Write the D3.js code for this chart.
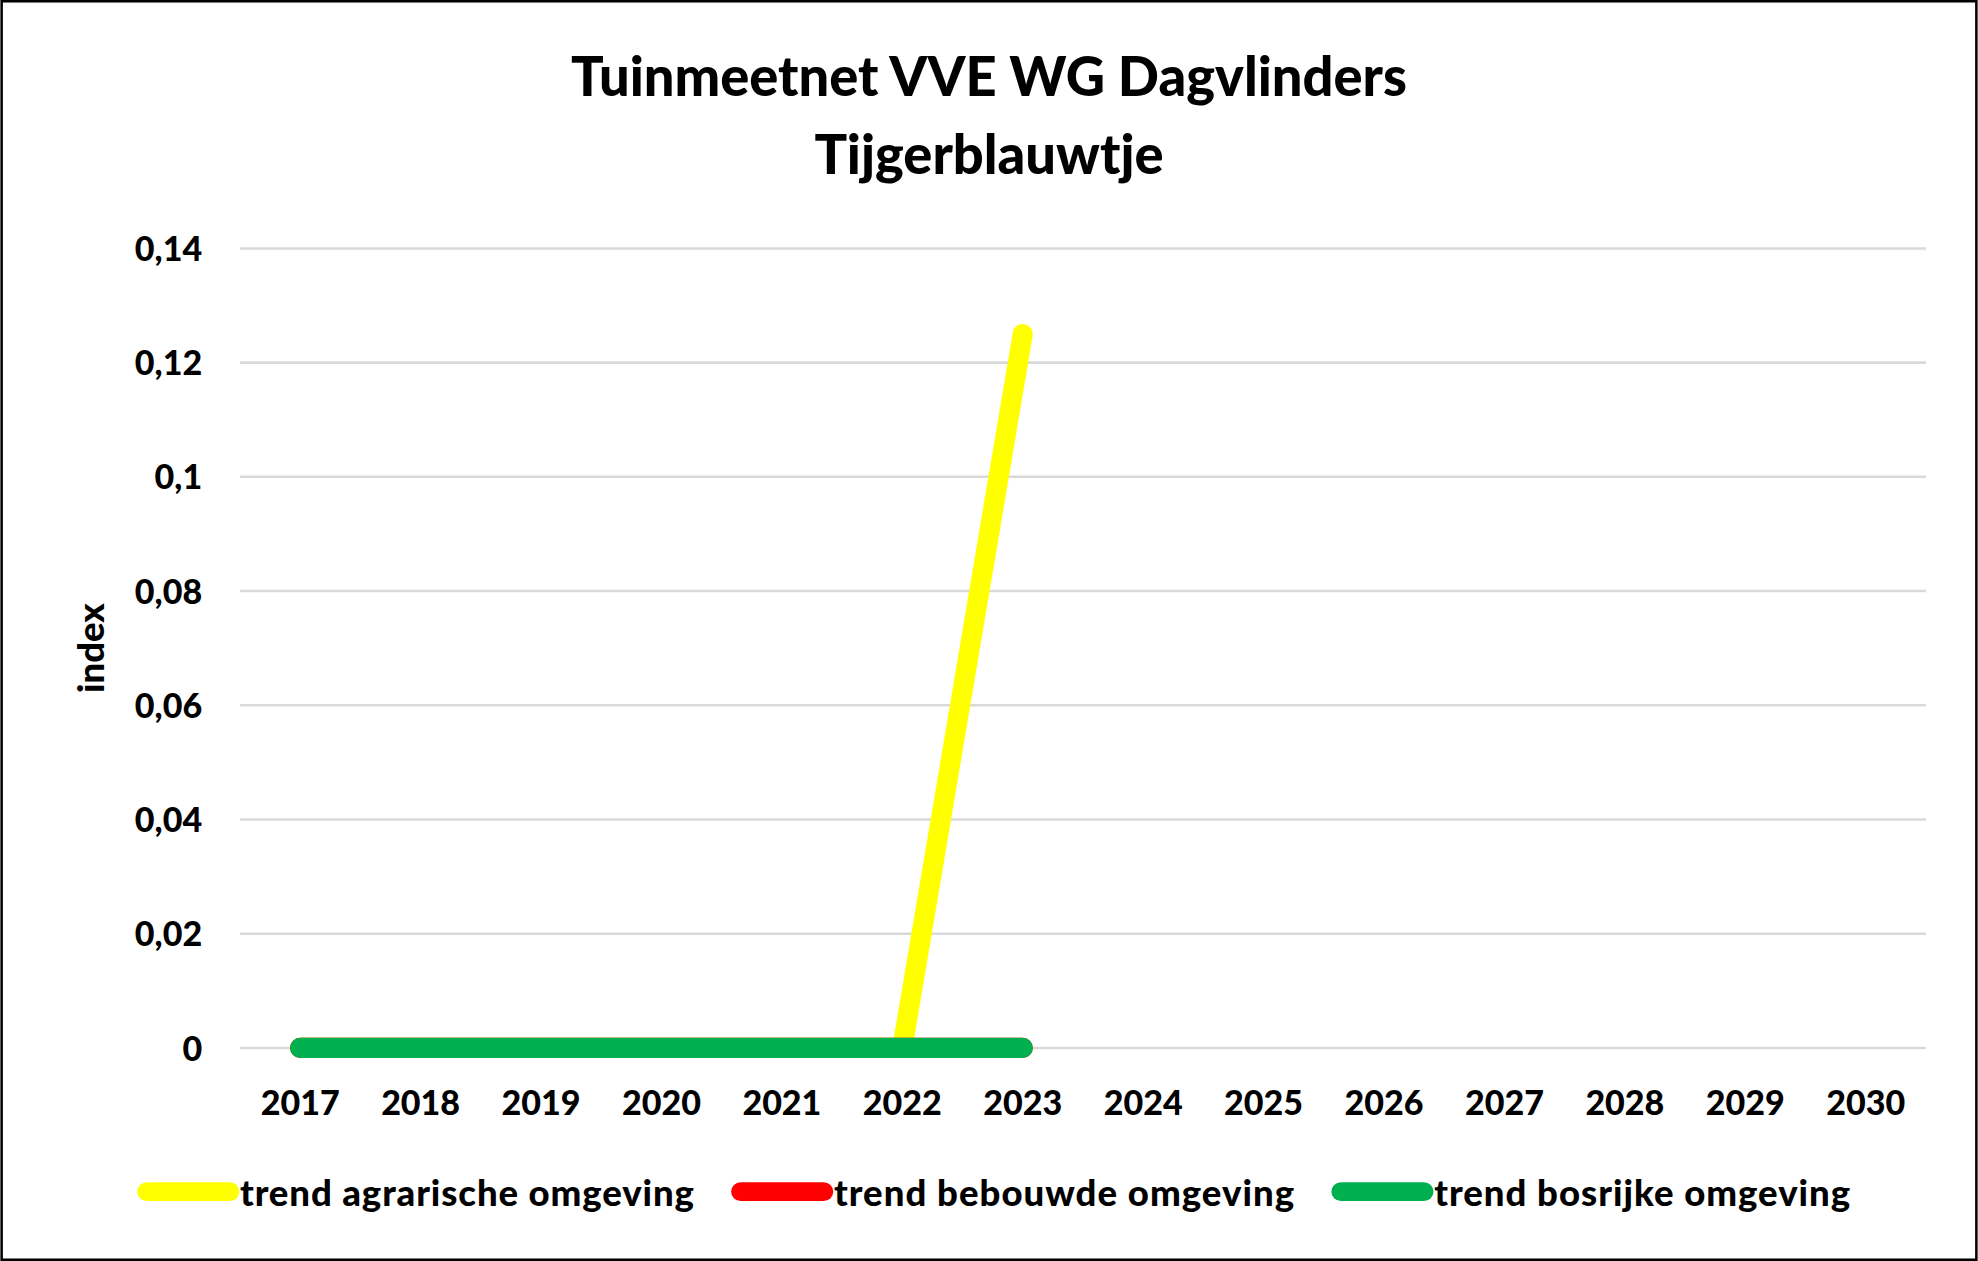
<!DOCTYPE html>
<meta charset="utf-8">
<script src="https://d3js.org/d3.v7.min.js"></script>
<style>body{margin:0;background:#fff}</style>
<div id="chart"></div>
<script>
var years = ["2017","2018","2019","2020","2021","2022","2023","2024","2025","2026","2027","2028","2029","2030"];
var agrarisch = [0,0,0,0,0,0,0.125,null,null,null,null,null,null,null];
var bebouwd   = [0,0,0,0,0,0,0,null,null,null,null,null,null,null];
var bosrijk   = [0,0,0,0,0,0,0,null,null,null,null,null,null,null];
var yTicks = [0,0.02,0.04,0.06,0.08,0.1,0.12,0.14];
var series = [
  {name:"trend agrarische omgeving", color:"#ffff00", values:agrarisch},
  {name:"trend bebouwde omgeving", color:"#ff0000", values:bebouwd},
  {name:"trend bosrijke omgeving", color:"#00b050", values:bosrijk}
];

var W = 1568, H = 1000;
var font = "Lato, 'Open Sans', sans-serif";
var svg = d3.select("#chart").append("svg")
  .attr("width", 1978).attr("height", 1261)
  .attr("viewBox", "0 0 " + W + " " + H)
  .style("font-family", font);

svg.append("rect").attr("x",1).attr("y",1).attr("width",W-2).attr("height",H-2)
  .attr("fill","#fff").attr("stroke","#000").attr("stroke-width",2);

// title
svg.append("text").attr("x",784).attr("y",76).attr("text-anchor","middle")
  .attr("font-size",43).attr("font-weight","900").text("Tuinmeetnet VVE WG Dagvlinders");
svg.append("text").attr("x",784).attr("y",138).attr("text-anchor","middle")
  .attr("font-size",43).attr("font-weight","900").text("Tijgerblauwtje");

var x = d3.scaleBand().domain(years).range([190,1527]);
var y = d3.scaleLinear().domain([0,0.14]).range([831,197]);

// gridlines
svg.append("g").selectAll("line").data(yTicks).enter().append("line")
  .attr("x1",190).attr("x2",1527)
  .attr("y1",function(d){return y(d)}).attr("y2",function(d){return y(d)})
  .attr("stroke","#d9d9d9").attr("stroke-width",2);

// y tick labels
svg.append("g").selectAll("text").data(yTicks).enter().append("text")
  .attr("x",160).attr("y",function(d){return y(d)+10})
  .attr("text-anchor","end").attr("font-size",27).attr("font-weight","900")
  .text(function(d){return String(d).replace(".",",")});

// x tick labels
svg.append("g").selectAll("text").data(years).enter().append("text")
  .attr("x",function(d){return x(d)+x.bandwidth()/2}).attr("y",884)
  .attr("text-anchor","middle").attr("font-size",27).attr("font-weight","900")
  .text(function(d){return d});

// y axis title
svg.append("text").attr("transform","translate(82,514) rotate(-90)")
  .attr("text-anchor","middle").attr("font-size",29).attr("font-weight","900").text("index");

// lines
var line = d3.line()
  .defined(function(d){return d != null})
  .x(function(d,i){return x(years[i])+x.bandwidth()/2})
  .y(function(d){return y(d)});
series.forEach(function(s){
  svg.append("path").datum(s.values).attr("d",line)
    .attr("fill","none").attr("stroke",s.color).attr("stroke-width",16)
    .attr("stroke-linecap","round").attr("stroke-linejoin","round");
});

// legend
var lx = [116, 587, 1063];
series.forEach(function(s,i){
  svg.append("line").attr("x1",lx[i]).attr("x2",lx[i]+66).attr("y1",945).attr("y2",945)
    .attr("stroke",s.color).attr("stroke-width",15).attr("stroke-linecap","round");
  svg.append("text").attr("x",lx[i]+74).attr("y",956).attr("font-size",29)
    .attr("font-weight","900").attr("textLength", i==0?360:(i==1?365:330))
    .text(s.name);
});
</script>
